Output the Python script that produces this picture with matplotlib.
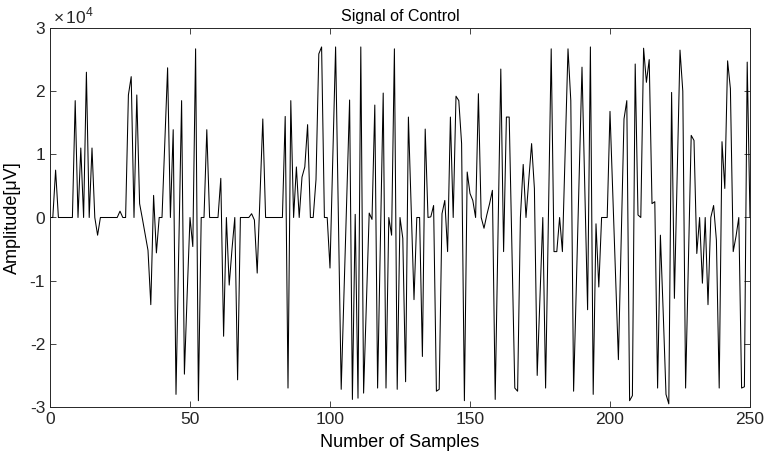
import numpy as np
import matplotlib
matplotlib.use("Agg")
import matplotlib.pyplot as plt
from matplotlib.ticker import FuncFormatter

# amplitude, in units of 1e4 uV, samples 0..250
amp_e4 = [
    0, 0, 0.75, 0, 0, 0, 0, 0, 0, 1.85,
    0, 1.1, 0, 2.3, 0, 1.1, 0, -0.28, 0, 0,
    0, 0, 0, 0, 0, 0.1, 0, 0, 1.94, 2.23,
    0, 1.94, 0.22, -0.02, -0.27, -0.52, -1.38, 0.35, -0.56, 0,
    0, 1.18, 2.37, 0, 1.39, -2.8, -0.5, 1.85, -2.48, -1.2,
    0, -0.46, 2.67, -2.9, 0, 0, 1.39, 0, 0, 0,
    0, 0.62, -1.88, 0, -1.07, -0.5, 0, -2.57, 0, 0,
    0, 0, 0.06, -0.04, -0.88, 0.34, 1.56, 0, 0, 0,
    0, 0, 0, 0, 1.6, -2.7, 1.85, 0, 0.8, 0,
    0.64, 0.8, 1.47, 0, 0, 0.6, 2.59, 2.7, 0, 0,
    -0.8, 0.95, 2.7, 0, -2.72, -1.2, 0.33, 1.86, -2.88, 0.05,
    -2.86, 2.7, -2.78, -1.35, 0.07, -0.03, 1.78, -2.7, -0.37, 1.97,
    -2.7, 0, -0.28, 2.67, -2.72, 0, -0.33, -2.6, 1.59, 0.15,
    -1.3, 0, 0, -2.2, 1.4, 0, 0.01, 0.19, -2.75, -2.72,
    0.06, 0.27, -0.54, 1.59, 0, 1.92, 1.85, 1.17, -2.9, 0.72,
    0.38, 0.27, 0.0, 1.96, 0, -0.17, 0.04, 0.22, 0.43, -2.88,
    -0.25, 2.35, -0.54, 1.59, 1.59, -0.55, -2.7, -2.75, 0, 0.84,
    0, 0.6, 1.17, 0.46, -2.5, -1.25, 0, -2.7, 0, 2.67,
    -0.54, -0.54, 0, -0.54, 1.06, 2.67, 1.85, -2.75, -1.04, 0.67,
    2.38, 0.46, -1.46, 2.7, -2.8, -0.1, -1.1, 0, 0, 0,
    1.68, 0.37, -0.94, -2.25, -0.35, 1.56, 1.85, -2.9, -2.82, 2.43,
    0.04, 0, 2.68, 2.14, 2.5, 0.22, 0.25, -2.7, -0.28, -1.5,
    -2.8, -2.95, 1.98, -1.28, 0.7, 2.65, 2.0, -2.7, -0.7, 1.3,
    1.22, -0.57, 0, -1.04, 0, -1.38, 0, 0.19, -0.36, -2.7,
    1.2, 0.46, 2.48, 2.04, -0.54, -0.3, 0, -2.7, -2.68, 2.46,
    0,
]
samples = np.arange(len(amp_e4))
amplitude = np.array(amp_e4) * 1e4

x_ticks = [0, 50, 100, 150, 200, 250]
y_ticks = [-3e4, -2e4, -1e4, 0, 1e4, 2e4, 3e4]

plt.rcParams['font.family'] = ['Liberation Sans', 'DejaVu Sans']
plt.rcParams['mathtext.fontset'] = 'custom'
plt.rcParams['mathtext.rm'] = 'Liberation Sans'
plt.rcParams['axes.unicode_minus'] = False

fig = plt.figure(figsize=(7.67, 4.61), dpi=100)
ax = fig.add_axes([50 / 767, 54 / 461, 700 / 767, 379 / 461])
ax.plot(samples, amplitude, color='black', lw=0.75)

ax.set_xlim(0, 250); ax.set_ylim(-3e4, 3e4)
ax.set_xticks(x_ticks); ax.set_yticks(y_ticks)
ax.yaxis.set_major_formatter(FuncFormatter(lambda v, _: f'{v / 1e4:g}'))
# MATLAB style exponent label above the y axis
ax.text(0.004, 1.004, r'$\times\,10^{4}$', transform=ax.transAxes, fontsize=12.5,
        ha='left', va='bottom', color='#262626')

ax.tick_params(direction='in', top=True, right=True, length=4, width=0.6, labelsize=12.5, colors='#262626')
for s in ax.spines.values():
    s.set_linewidth(0.7); s.set_color('#262626')

ax.set_title('Signal of Control', fontsize=11.5, pad=5)
ax.set_xlabel('Number of Samples', fontsize=13, labelpad=5)
ax.set_ylabel('Amplitude[μV]', fontsize=13, labelpad=6)

fig.savefig('out.png', dpi=100)
